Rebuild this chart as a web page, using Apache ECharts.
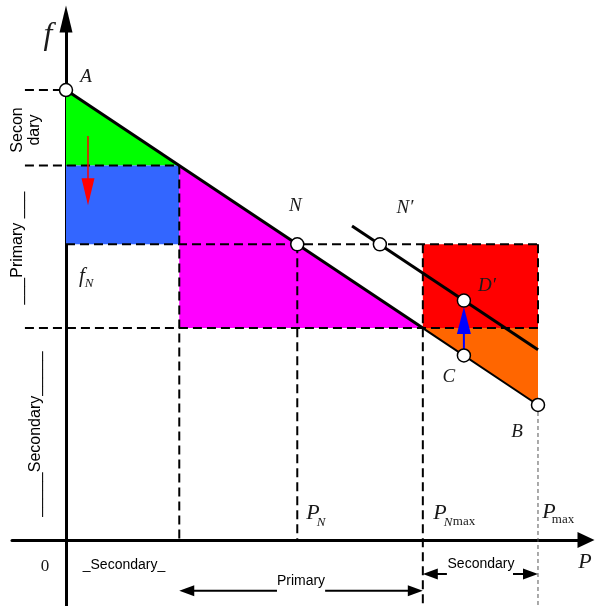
<!DOCTYPE html>
<html>
<head>
<meta charset="utf-8">
<script src="https://cdn.jsdelivr.net/npm/echarts@6/dist/echarts.min.js"></script>
<style>
  html, body { margin: 0; padding: 0; background: #fff; }
  #chart { width: 595px; height: 606px; }
</style>
</head>
<body>
<div id="chart"></div>
<script>
// Power levels on the P axis: P1 (end of first band), PN, PNmax, Pmax
const powerLevels = [24, 49, 75.6, 100];
// Frequency levels on the f axis: fA, f1, fN, f2, fB
const freqLevels = [100, 83.2, 65.7, 47.1, 30];
// Droop characteristic A -> B and the shifted characteristic through N'
const droopLine = [[0, 100], [75.6, 47.1], [100, 30]];
const shiftedLine = [[60.6, 69.8], [100, 42.25]];
// Operating points on the characteristics
const pointNames = ['A', 'N', 'N\u2032', 'D\u2032', 'C', 'B'];
const pointP = [0, 49, 66.5, 84.3, 84.3, 100];
const pointF = [100, 65.7, 65.7, 53.2, 41.0, 30];
// Frequency-shift arrows: [P, f from, f to]
const redShift = [4.66, 89.8, 74.4];
const blueShift = [84.3, 41.0, 51.8];

const [P1, PN, PNmax, Pmax] = powerLevels;
const [fA, f1, fN, f2, fB] = freqLevels;

// axis extents (the axes run a little past the origin)
const xMin = -11.44, xMax = 110.17;
const yMin = -14.67, yMax = 115.78;
const guideStart = -8.7;     // left end of the horizontal guides
const primaryRow = -11.3;    // row of the "Primary" span arrows
const secondaryRow = -7.56;  // row of the "Secondary" span arrows

// shaded bands
const regions = [
  { color: '#00ff00', poly: [[0, fA], [P1, f1], [0, f1]] },
  { color: '#3366ff', poly: [[0, f1], [P1, f1], [P1, fN], [0, fN]] },
  { color: '#ff00ff', poly: [[P1, f1], [PNmax, f2], [P1, f2]] },
  { color: '#ff0000', poly: [[PNmax, fN], [Pmax, fN], [Pmax, f2], [PNmax, f2]] },
  { color: '#ff6600', poly: [[PNmax, f2], [Pmax, f2], [Pmax, fB]] }
];

const dashedGuides = [
  [guideStart, fA, 0, fA],
  [guideStart, f1, P1, f1],
  [0, fN, Pmax, fN],
  [guideStart, f2, Pmax, f2],
  [P1, f1, P1, 0],
  [PN, fN, PN, 0],
  [PNmax, fN, PNmax, yMin],
  [Pmax, fN, Pmax, f2]
];
const thinGuides = [[Pmax, fB, Pmax, yMin]];

function polygonSeries(region) {
  return {
    type: 'custom', silent: true, z: 1,
    data: region.poly,
    renderItem: (params, api) => {
      if (params.dataIndex !== 0) return null;
      return {
        type: 'polygon',
        shape: { points: region.poly.map(p => api.coord(p)) },
        style: { fill: region.color }
      };
    }
  };
}

function segmentSeries(items, style, z) {
  return {
    type: 'custom', silent: true, z,
    data: items,
    encode: { x: [0, 2], y: [1, 3] },
    renderItem: (params, api) => {
      const a = api.coord([api.value(0), api.value(1)]);
      const b = api.coord([api.value(2), api.value(3)]);
      return { type: 'line', shape: { x1: a[0], y1: a[1], x2: b[0], y2: b[1] }, style };
    }
  };
}

function arrowSeries(items, color, shaftW, headL, headW, z) {
  return {
    type: 'custom', silent: true, z,
    data: items,
    encode: { x: [0, 2], y: [1, 3] },
    renderItem: (params, api) => {
      const a = api.coord([api.value(0), api.value(1)]);
      const b = api.coord([api.value(2), api.value(3)]);
      const dx = b[0] - a[0], dy = b[1] - a[1];
      const len = Math.hypot(dx, dy) || 1;
      const ux = dx / len, uy = dy / len;
      const base = [b[0] - ux * headL, b[1] - uy * headL];
      const nx = -uy * headW / 2, ny = ux * headW / 2;
      return {
        type: 'group',
        children: [
          { type: 'line', shape: { x1: a[0], y1: a[1], x2: base[0] + ux, y2: base[1] + uy },
            style: { stroke: color, lineWidth: shaftW } },
          { type: 'polygon',
            shape: { points: [b, [base[0] + nx, base[1] + ny], [base[0] - nx, base[1] - ny]] },
            style: { fill: color } }
        ]
      };
    }
  };
}

const labelOffsets = [[20, -13], [-2, -38], [25, -36], [23, -15], [-15, 22], [-21, 27]];
const mathFont = { fontFamily: 'Liberation Serif', fontStyle: 'italic', color: '#1a1a1a' };

const series = [
  ...regions.map(polygonSeries),
  segmentSeries(dashedGuides, { stroke: '#000', lineWidth: 2, lineDash: [9, 5] }, 3),
  segmentSeries(thinGuides, { stroke: '#555', lineWidth: 1, lineDash: [4, 3] }, 3),
  segmentSeries([[...droopLine[0], ...droopLine[1]]], { stroke: '#000', lineWidth: 3 }, 4),
  segmentSeries([[...droopLine[1], ...droopLine[2]]], { stroke: '#000', lineWidth: 2 }, 4),
  segmentSeries([[...shiftedLine[0], ...shiftedLine[1]]], { stroke: '#000', lineWidth: 3 }, 4),
  arrowSeries([[redShift[0], redShift[1], redShift[0], redShift[2]]], '#ff0000', 1.5, 27, 13, 5),
  arrowSeries([[blueShift[0], blueShift[1], blueShift[0], blueShift[2]]], '#0000ff', 2, 27, 14, 5),
  arrowSeries([
    [44.7, primaryRow, P1, primaryRow],
    [54.9, primaryRow, PNmax, primaryRow],
    [80.7, secondaryRow, PNmax, secondaryRow],
    [94.7, secondaryRow, Pmax, secondaryRow]
  ], '#000', 2, 15, 11, 5),
  {
    type: 'scatter', z: 6, silent: true,
    symbol: 'circle', symbolSize: 13,
    itemStyle: { color: '#fff', borderColor: '#000', borderWidth: 1.5, opacity: 1 },
    data: pointP.map((p, i) => ({
      value: [p, pointF[i]], name: pointNames[i],
      label: { offset: labelOffsets[i] }
    })),
    label: {
      show: true, position: 'inside', formatter: '{b}',
      fontSize: 19, ...mathFont
    }
  }
];

function txt(x, y, text, style, extra) {
  return Object.assign({
    type: 'text', x, y, z: 10, silent: true,
    style: Object.assign({ text, fill: '#111', align: 'center', verticalAlign: 'middle' }, style)
  }, extra || {});
}
const serifI = size => ({ fontFamily: 'Liberation Serif', fontStyle: 'italic', fontSize: size, fill: '#1a1a1a' });
const serifR = size => ({ fontFamily: 'Liberation Serif', fontSize: size, fill: '#1a1a1a' });
const sans = size => ({ fontFamily: 'Liberation Sans', fontSize: size, fill: '#000' });
const up = { rotation: Math.PI / 2 };

const graphics = [
  txt(48, 36, 'f', serifI(32)),
  txt(585, 562, 'P', serifI(22)),
  txt(45, 567, '0', serifR(17)),
  txt(82, 276, 'f', serifI(21)),
  txt(89, 284, 'N', serifI(13)),
  txt(313, 513, 'P', serifI(22)),
  txt(321, 523, 'N', serifI(13)),
  txt(440, 513, 'P', serifI(22)),
  txt(448, 523, 'N', serifI(13)),
  txt(464, 522, 'max', serifR(13)),
  txt(549, 512, 'P', serifI(22)),
  txt(563, 520, 'max', serifR(13)),
  txt(124, 565, '_Secondary_', sans(14)),
  txt(301, 581, 'Primary', sans(14)),
  txt(481, 564, 'Secondary', sans(14)),
  txt(26, 130, 'Secon\ndary', Object.assign(sans(16), { lineHeight: 17 }), up),
  txt(18, 248, '___Primary ___', sans(16), up),
  txt(36, 434, '_____Secondary_____', sans(16), up)
];

const chart = echarts.init(document.getElementById('chart'));
chart.setOption({
  animation: false,
  backgroundColor: '#fff',
  grid: { left: 12, right: 9, top: 19, bottom: 0, containLabel: false },
  xAxis: {
    type: 'value', min: xMin, max: xMax,
    axisLine: { onZero: true, symbol: ['none', 'triangle'], symbolSize: [16, 17],
      lineStyle: { color: '#000', width: 3 } },
    axisTick: { show: false }, axisLabel: { show: false }, splitLine: { show: false }
  },
  yAxis: {
    type: 'value', min: yMin, max: yMax,
    axisLine: { onZero: true, symbol: ['none', 'triangle'], symbolSize: [13, 27],
      lineStyle: { color: '#000', width: 3 } },
    axisTick: { show: false }, axisLabel: { show: false }, splitLine: { show: false }
  },
  series,
  graphic: graphics
});
</script>
</body>
</html>
